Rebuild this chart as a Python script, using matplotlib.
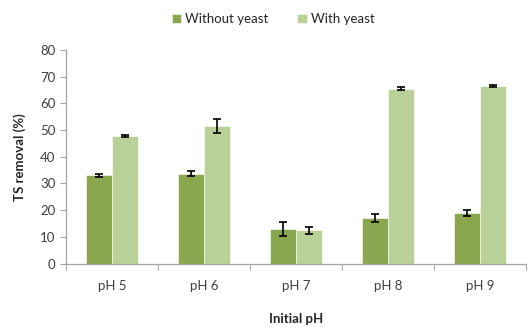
import matplotlib.pyplot as plt
import numpy as np

# TS removal by initial pH, with and without yeast
ph_labels = ['pH 5', 'pH 6', 'pH 7', 'pH 8', 'pH 9']
without_yeast = [33.0, 33.6, 13.0, 17.0, 19.0]
without_err = [0.4, 0.9, 2.7, 1.5, 1.2]
with_yeast = [47.8, 51.5, 12.4, 65.5, 66.6]
with_err = [0.5, 2.6, 1.2, 0.6, 0.3]

plt.rcParams['font.family'] = ['Lato', 'DejaVu Sans']

fig = plt.figure(figsize=(5.31, 3.29), dpi=100)
ax = fig.add_axes([0.124, 0.199, 0.867, 0.649])

x = np.arange(len(ph_labels))
w = 0.28
dark = '#8aa64e'
light = '#b9d098'
axcol = '#a6a6a6'

ax.bar(x - w/2, without_yeast, w, color=dark, edgecolor='white', linewidth=0.4,
       yerr=without_err, capsize=3, error_kw=dict(ecolor='black', elinewidth=1.2, capthick=1.2),
       label='Without yeast', zorder=2)
ax.bar(x + w/2, with_yeast, w, color=light, edgecolor='white', linewidth=0.4,
       yerr=with_err, capsize=3, error_kw=dict(ecolor='black', elinewidth=1.2, capthick=1.2),
       label='With yeast', zorder=2)

ax.set_xlim(-0.5, len(ph_labels) - 0.5)
ax.set_ylim(0, 80)
ax.set_yticks(np.arange(0, 81, 10))

# category boundaries get the tick marks, labels sit in the middle
ax.set_xticks(np.arange(-0.5, len(ph_labels) + 0.5, 1.0))
ax.set_xticklabels([])
ax.set_xticks(x, minor=True)
ax.set_xticklabels(ph_labels, minor=True)
ax.tick_params(axis='x', which='minor', length=0, pad=12, labelsize=9.5, labelcolor='#404040')
ax.tick_params(axis='x', which='major', length=4, color=axcol, direction='out')
ax.tick_params(axis='y', length=4, color=axcol, labelsize=9.5, labelcolor='#404040')

for s in ['top', 'right']:
    ax.spines[s].set_visible(False)
for s in ['left', 'bottom']:
    ax.spines[s].set_color(axcol)
    ax.spines[s].set_linewidth(0.9)

ax.set_ylabel('TS removal (%)', fontsize=9.5, fontweight='bold', color='#262626', labelpad=10)
ax.set_xlabel('Initial pH', fontsize=9.5, fontweight='bold', color='#262626', labelpad=15)

ax.legend(loc='lower center', bbox_to_anchor=(0.45, 1.06), ncol=2, frameon=False,
          fontsize=9.5, handlelength=0.7, handleheight=0.7, handletextpad=0.3,
          columnspacing=2.2, labelcolor='#262626')

fig.savefig('out.png', dpi=100)
